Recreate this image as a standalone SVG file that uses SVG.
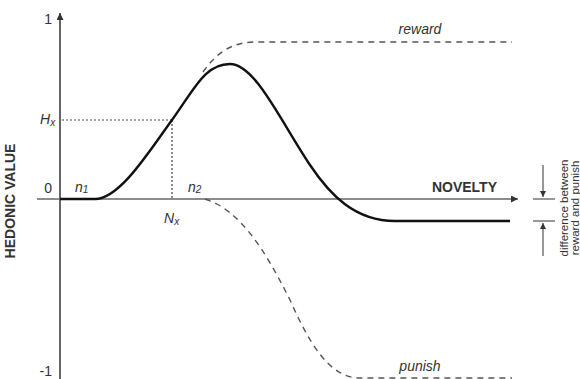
<svg xmlns="http://www.w3.org/2000/svg" width="580" height="379" viewBox="0 0 580 379">
<style>
text{font-family:"Liberation Sans",Arial,sans-serif;fill:#333}
.lbl{font-size:14px}
.it{font-size:14px;font-style:italic}
.b{font-size:14px;font-weight:bold}
.axis{stroke:#666;fill:none}
.dash{stroke:#555;fill:none;stroke-width:1.4;stroke-dasharray:6,5}
.dot{stroke:#444;fill:none;stroke-width:1.2;stroke-dasharray:2,2}
.thin{stroke:#333;fill:none;stroke-width:1}
</style>
<defs>
<marker id="ah" viewBox="0 0 10 10" refX="10" refY="5" markerWidth="6" markerHeight="6" markerUnits="userSpaceOnUse" orient="auto"><path d="M0,0 L10,5 L0,10 z" fill="#333"/></marker>
<marker id="ahax" viewBox="0 0 10 10" refX="10" refY="5" markerWidth="10" markerHeight="7" markerUnits="userSpaceOnUse" orient="auto"><path d="M0,0 L10,5 L0,10 z" fill="#333"/></marker>
</defs>
<g id="axes">
<line class="axis" x1="60" y1="379" x2="60" y2="13" stroke-width="2" marker-end="url(#ahax)"/>
<line class="axis" x1="37" y1="199" x2="518" y2="199" stroke-width="1.6" marker-end="url(#ahax)"/>
<text class="lbl" x="52" y="24" text-anchor="end">1</text>
<text class="lbl" x="52" y="193" text-anchor="end">0</text>
<text class="lbl" x="52" y="376" text-anchor="end">-1</text>
<text class="b" x="497" y="192" text-anchor="end">NOVELTY</text>
<text class="b" transform="translate(15,201) rotate(-90)" text-anchor="middle">HEDONIC VALUE</text>
</g>
<g id="markers">
<line class="dot" x1="62" y1="120" x2="172" y2="120"/>
<line class="dot" x1="172" y1="120" x2="172" y2="198"/>
<text class="it" x="40" y="124">H<tspan font-size="10" dy="2">x</tspan></text>
<text class="it" x="164" y="223">N<tspan font-size="10" dy="2">x</tspan></text>
<text class="it" x="75" y="192">n<tspan font-size="10" dy="1">1</tspan></text>
<text class="it" x="188" y="192">n<tspan font-size="10" dy="1">2</tspan></text>
</g>
<g id="connectors">
<path id="hedonic" d="M60,199 L95,199 C120,199 150,150 172,120 C195,88 205,64 230,64 C255,64 280,120 310,165 C330,195 355,221 395,221 L510,221" fill="none" stroke="#111" stroke-width="2.4"/>
<path id="reward" class="dash" d="M203,72 C215,55 230,42 255,42 L512,42"/>
<path id="punish" class="dash" d="M205,199 C240,210 265,250 290,300 C310,345 330,378 360,378 L512,378"/>
</g>
<g id="labels">
<text class="it" x="420" y="34" text-anchor="middle">reward</text>
<text class="it" x="420" y="371" text-anchor="middle">punish</text>
</g>
<g id="difference">
<line class="thin" x1="533" y1="199" x2="555" y2="199"/>
<line class="thin" x1="533" y1="221" x2="555" y2="221"/>
<line class="thin" x1="543" y1="165" x2="543" y2="197" marker-end="url(#ah)"/>
<line class="thin" x1="543" y1="256" x2="543" y2="223" marker-end="url(#ah)"/>
<text font-size="11.5" transform="translate(568,208) rotate(-90)" text-anchor="middle">difference between</text>
<text font-size="11.5" transform="translate(579,208) rotate(-90)" text-anchor="middle">reward and punish</text>
</g>
</svg>
